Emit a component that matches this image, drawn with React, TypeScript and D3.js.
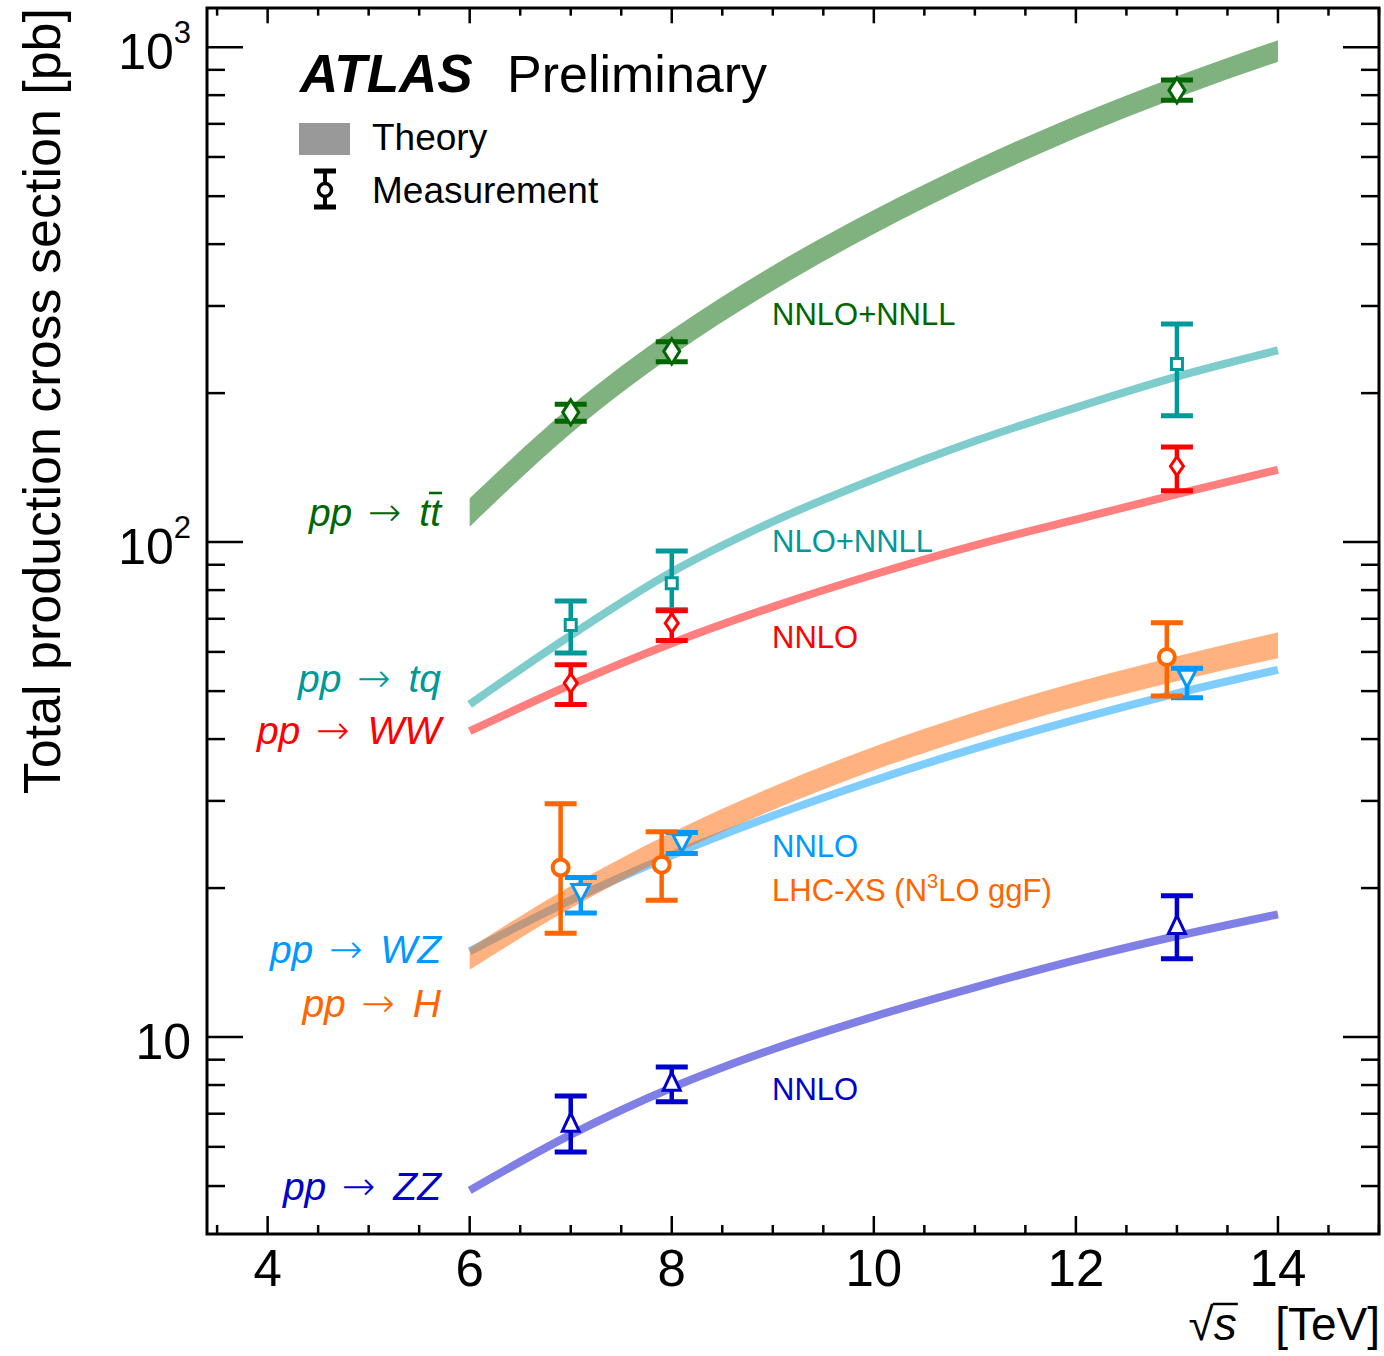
import { useEffect, useRef } from "react";
import * as d3 from "d3";

// centre-of-mass energies where the theory curves are read [TeV]
const sqrtS = [6, 7, 8, 9, 10, 11, 12, 13, 14];

// theory predictions [pb]
const ttbarTheory = [115, 177, 253, 342, 444, 561, 691, 832, 984];
const ttbarTheoryErr = [0.066, 0.063, 0.06, 0.058, 0.056, 0.054, 0.052, 0.05, 0.05];
const tqTheory = [47, 64.8, 87, 110, 134, 160, 187, 216, 244];
const wwTheory = [41.5, 51.5, 62.5, 74, 86, 98.5, 111, 125, 140];
const wzTheory = [14.9, 18.9, 23.3, 28.0, 33.0, 38.3, 43.8, 49.5, 55.2];
const higgsTheory = [14.4, 19.2, 24.6, 30.4, 36.6, 42.9, 49.3, 55.6, 62.0];
const higgsTheoryErr = [0.05, 0.052, 0.053, 0.054, 0.055, 0.056, 0.057, 0.058, 0.06];
const zzTheory = [4.9, 6.35, 7.9, 9.45, 11.0, 12.6, 14.3, 16.0, 17.7];

// measurements [pb]
const ttbarMeasS = [7, 8, 13];
const ttbarMeas = [182.9, 242.9, 818];
const ttbarMeasLo = [175.5, 231.5, 781];
const ttbarMeasHi = [190, 254, 858];

const tqMeasS = [7, 8, 13];
const tqMeas = [68, 82.6, 229];
const tqMeasLo = [59.7, 73, 180];
const tqMeasHi = [76, 96, 276];

const wwMeasS = [7, 8, 13];
const wwMeas = [51.9, 68.6, 142.4];
const wwMeasLo = [47, 63.3, 127];
const wwMeasHi = [56.5, 72.7, 155.6];

const higgsMeasS = [6.9, 7.9, 12.9];
const higgsMeas = [22.0, 22.3, 58.6];
const higgsMeasLo = [16.2, 18.9, 48.9];
const higgsMeasHi = [29.6, 26.0, 68.7];

const wzMeasS = [7.1, 8.1, 13.1];
const wzMeas = [19.6, 24.7, 53.1];
const wzMeasLo = [17.8, 23.5, 48.5];
const wzMeasHi = [21.0, 25.9, 55.6];

const zzMeasS = [7, 8, 13];
const zzMeas = [6.7, 8.1, 16.8];
const zzMeasLo = [5.86, 7.4, 14.4];
const zzMeasHi = [7.6, 8.7, 19.3];

const xTicks = [4, 6, 8, 10, 12, 14];
const yDecades = [10, 100, 1000];
const yDecadeExp = ["", "2", "3"];

const FONT = "'Liberation Sans', Arial, Helvetica, sans-serif";

function markerPath(kind: string) {
  switch (kind) {
    case "diamondBig":
      return "M0,-12.5L8,0L0,12.5L-8,0Z";
    case "diamond":
      return "M0,-9.5L6.5,0L0,9.5L-6.5,0Z";
    case "square":
      return "M-5.5,-5.5H5.5V5.5H-5.5Z";
    case "triDown":
      return "M-9,-8H9L0,9Z";
    case "triUp":
      return "M0,-10L8.5,8H-8.5Z";
    default:
      return d3.arc()({ innerRadius: 0, outerRadius: 8, startAngle: 0, endAngle: 2 * Math.PI }) as string;
  }
}

function App() {
  const ref = useRef<SVGSVGElement>(null);

  useEffect(() => {
    const width = 1384;
    const height = 1356;
    const plot = { left: 207, right: 1379, top: 8, bottom: 1234 };

    const svg = d3.select(ref.current);
    svg.selectAll("*").remove();
    svg.attr("width", width).attr("height", height);

    const x = d3.scaleLinear().domain([3.4, 15]).range([plot.left, plot.right]);
    const y = d3.scaleLog().domain([4, 1200]).range([plot.bottom, plot.top]);

    const processes = [
      {
        color: "#006600", theory: ttbarTheory, err: ttbarTheoryErr, band: true,
        measS: ttbarMeasS, meas: ttbarMeas, lo: ttbarMeasLo, hi: ttbarMeasHi, marker: "diamondBig",
      },
      {
        color: "#009999", theory: tqTheory, err: null, band: false,
        measS: tqMeasS, meas: tqMeas, lo: tqMeasLo, hi: tqMeasHi, marker: "square",
      },
      {
        color: "#ff0000", theory: wwTheory, err: null, band: false,
        measS: wwMeasS, meas: wwMeas, lo: wwMeasLo, hi: wwMeasHi, marker: "diamond",
      },
      {
        color: "#0000cc", theory: zzTheory, err: null, band: false,
        measS: zzMeasS, meas: zzMeas, lo: zzMeasLo, hi: zzMeasHi, marker: "triUp",
      },
      {
        color: "#0099ff", theory: wzTheory, err: null, band: false,
        measS: wzMeasS, meas: wzMeas, lo: wzMeasLo, hi: wzMeasHi, marker: "triDown",
      },
      {
        color: "#ff6600", theory: higgsTheory, err: higgsTheoryErr, band: true,
        measS: higgsMeasS, meas: higgsMeas, lo: higgsMeasLo, hi: higgsMeasHi, marker: "circle",
      },
    ];

    // theory curves and bands
    const curves = svg.append("g");
    processes.forEach(p => {
      const pts = sqrtS.map((s, i) => ({ s, v: p.theory[i], e: p.err ? p.err[i] : 0 }));
      if (p.band) {
        const area = d3.area<any>()
          .x(d => x(d.s))
          .y0(d => y(d.v * (1 - d.e)))
          .y1(d => y(d.v * (1 + d.e)))
          .curve(d3.curveMonotoneX);
        curves.append("path").attr("d", area(pts)).attr("fill", p.color).attr("fill-opacity", 0.5);
      } else {
        const line = d3.line<any>().x(d => x(d.s)).y(d => y(d.v)).curve(d3.curveMonotoneX);
        curves.append("path").attr("d", line(pts))
          .attr("fill", "none").attr("stroke", p.color).attr("stroke-opacity", 0.5)
          .attr("stroke-width", 8);
      }
    });

    // measurements
    const meas = svg.append("g");
    processes.forEach(p => {
      p.measS.forEach((s, i) => {
        const g = meas.append("g").attr("stroke", p.color);
        const cx = x(s);
        g.append("line").attr("x1", cx).attr("x2", cx)
          .attr("y1", y(p.lo[i])).attr("y2", y(p.hi[i])).attr("stroke-width", 4.5);
        [p.lo[i], p.hi[i]].forEach(v => {
          g.append("line").attr("x1", cx - 16).attr("x2", cx + 16)
            .attr("y1", y(v)).attr("y2", y(v)).attr("stroke-width", 5);
        });
        g.append("path").attr("d", markerPath(p.marker))
          .attr("transform", `translate(${cx},${y(p.meas[i])})`)
          .attr("fill", "white").attr("stroke-width", p.marker === "circle" ? 4 : 3);
      });
    });

    // process labels
    const procLabels = [
      { end: "tt", bar: true, color: "#006600", yb: 526 },
      { end: "tq", bar: false, color: "#009999", yb: 692 },
      { end: "WW", bar: false, color: "#ff0000", yb: 744 },
      { end: "WZ", bar: false, color: "#0099ff", yb: 963 },
      { end: "H", bar: false, color: "#ff6600", yb: 1017 },
      { end: "ZZ", bar: false, color: "#0000cc", yb: 1200 },
    ];
    procLabels.forEach(l => {
      const t = svg.append("text")
        .attr("x", 441).attr("y", l.yb)
        .attr("text-anchor", "end")
        .attr("font-family", FONT).attr("font-size", 39)
        .attr("fill", l.color);
      t.append("tspan").attr("font-style", "italic").text("pp\u00A0");
      t.append("tspan").attr("font-family", "'DejaVu Sans', sans-serif").attr("font-weight", 200)
        .attr("font-size", 40).attr("dx", 5).text("\u2192\u00A0");
      t.append("tspan").attr("font-style", "italic").attr("dx", 5).text(l.end);
      if (l.bar) {
        svg.append("line").attr("x1", 429).attr("x2", 442)
          .attr("y1", l.yb - 33).attr("y2", l.yb - 33)
          .attr("stroke", l.color).attr("stroke-width", 2.5);
      }
    });

    // theory labels
    const theoryLabels = [
      { text: "NNLO+NNLL", color: "#006600", yb: 325 },
      { text: "NLO+NNLL", color: "#009999", yb: 552 },
      { text: "NNLO", color: "#ff0000", yb: 648 },
      { text: "NNLO", color: "#0099ff", yb: 857 },
      { text: "LHC-XS", color: "#ff6600", yb: 901 },
      { text: "NNLO", color: "#0000cc", yb: 1100 },
    ];
    theoryLabels.forEach(l => {
      const t = svg.append("text")
        .attr("x", 772).attr("y", l.yb)
        .attr("font-family", FONT).attr("font-size", 31)
        .attr("fill", l.color);
      if (l.text === "LHC-XS") {
        t.append("tspan").text("LHC-XS (N");
        t.append("tspan").attr("font-size", 20).attr("dy", -13).text("3");
        t.append("tspan").attr("dy", 13).text("LO ggF)");
      } else {
        t.text(l.text);
      }
    });

    // legend
    svg.append("text").attr("x", 300).attr("y", 92)
      .attr("font-family", FONT).attr("font-size", 53)
      .attr("font-weight", "bold").attr("font-style", "italic").text("ATLAS");
    svg.append("text").attr("x", 507).attr("y", 92)
      .attr("font-family", FONT).attr("font-size", 52).text("Preliminary");
    svg.append("rect").attr("x", 299).attr("y", 123).attr("width", 51).attr("height", 32)
      .attr("fill", "#999999");
    svg.append("text").attr("x", 372).attr("y", 150)
      .attr("font-family", FONT).attr("font-size", 37).text("Theory");
    const lg = svg.append("g").attr("stroke", "black");
    lg.append("line").attr("x1", 325).attr("x2", 325).attr("y1", 171).attr("y2", 207).attr("stroke-width", 4);
    [171, 207].forEach(v => lg.append("line").attr("x1", 314).attr("x2", 336)
      .attr("y1", v).attr("y2", v).attr("stroke-width", 5));
    lg.append("circle").attr("cx", 325).attr("cy", 190).attr("r", 6.5)
      .attr("fill", "white").attr("stroke-width", 3.5);
    svg.append("text").attr("x", 372).attr("y", 203)
      .attr("font-family", FONT).attr("font-size", 37).text("Measurement");

    // axes ticks
    const ax = svg.append("g").attr("stroke", "black").attr("stroke-width", 2.5);
    d3.range(3.5, 15.01, 0.5).forEach(v => {
      const len = xTicks.includes(v) ? 18 : 9;
      ax.append("line").attr("x1", x(v)).attr("x2", x(v))
        .attr("y1", plot.bottom).attr("y2", plot.bottom - len);
      ax.append("line").attr("x1", x(v)).attr("x2", x(v))
        .attr("y1", plot.top).attr("y2", plot.top + len * 0.85);
    });
    const yMinor: number[] = [];
    [1, 10, 100, 1000].forEach(d => {
      d3.range(1, 10).forEach(k => {
        const v = k * d;
        if (v > 4 && v < 1200) yMinor.push(v);
      });
    });
    yMinor.forEach(v => {
      const len = yDecades.includes(v) ? 36 : 18;
      ax.append("line").attr("x1", plot.left).attr("x2", plot.left + len)
        .attr("y1", y(v)).attr("y2", y(v));
      ax.append("line").attr("x1", plot.right).attr("x2", plot.right - len)
        .attr("y1", y(v)).attr("y2", y(v));
    });

    // frame
    svg.append("rect")
      .attr("x", plot.left).attr("y", plot.top)
      .attr("width", plot.right - plot.left).attr("height", plot.bottom - plot.top)
      .attr("fill", "none").attr("stroke", "black").attr("stroke-width", 3);

    // tick labels
    svg.append("g").selectAll("text")
      .data(xTicks)
      .join("text")
      .attr("x", d => x(d)).attr("y", 1286)
      .attr("text-anchor", "middle")
      .attr("font-family", FONT).attr("font-size", 51)
      .text(d => d);

    yDecades.forEach((v, i) => {
      const t = svg.append("text")
        .attr("x", 191).attr("y", y(v) + 22)
        .attr("text-anchor", "end")
        .attr("font-family", FONT).attr("font-size", 50);
      t.append("tspan").text("10");
      if (yDecadeExp[i]) {
        t.append("tspan").attr("font-size", 31).attr("dy", -26).text(yDecadeExp[i]);
      }
    });

    // axis titles
    svg.append("text")
      .attr("transform", `translate(60,${plot.top}) rotate(-90)`)
      .attr("text-anchor", "end")
      .attr("font-family", FONT).attr("font-size", 52)
      .text("Total production cross section [pb]");

    const xt = svg.append("text")
      .attr("x", 1380).attr("y", 1340)
      .attr("text-anchor", "end")
      .attr("font-family", FONT).attr("font-size", 46);
    xt.append("tspan").text("\u221A");
    xt.append("tspan").attr("font-style", "italic").text("s");
    xt.append("tspan").text("\u00A0\u00A0\u00A0[TeV]");
    const node = xt.node() as SVGTextElement;
    if (node) {
      const s0 = node.getStartPositionOfChar(1);
      const s1 = node.getEndPositionOfChar(1);
      svg.append("line").attr("x1", s0.x - 1).attr("x2", s1.x + 1)
        .attr("y1", 1304).attr("y2", 1304)
        .attr("stroke", "black").attr("stroke-width", 2.5);
    }
  }, []);

  return (
    <svg ref={ref} style={{ position: "absolute", left: 0, top: 0, background: "white" }}></svg>
  );
}

export default App;
